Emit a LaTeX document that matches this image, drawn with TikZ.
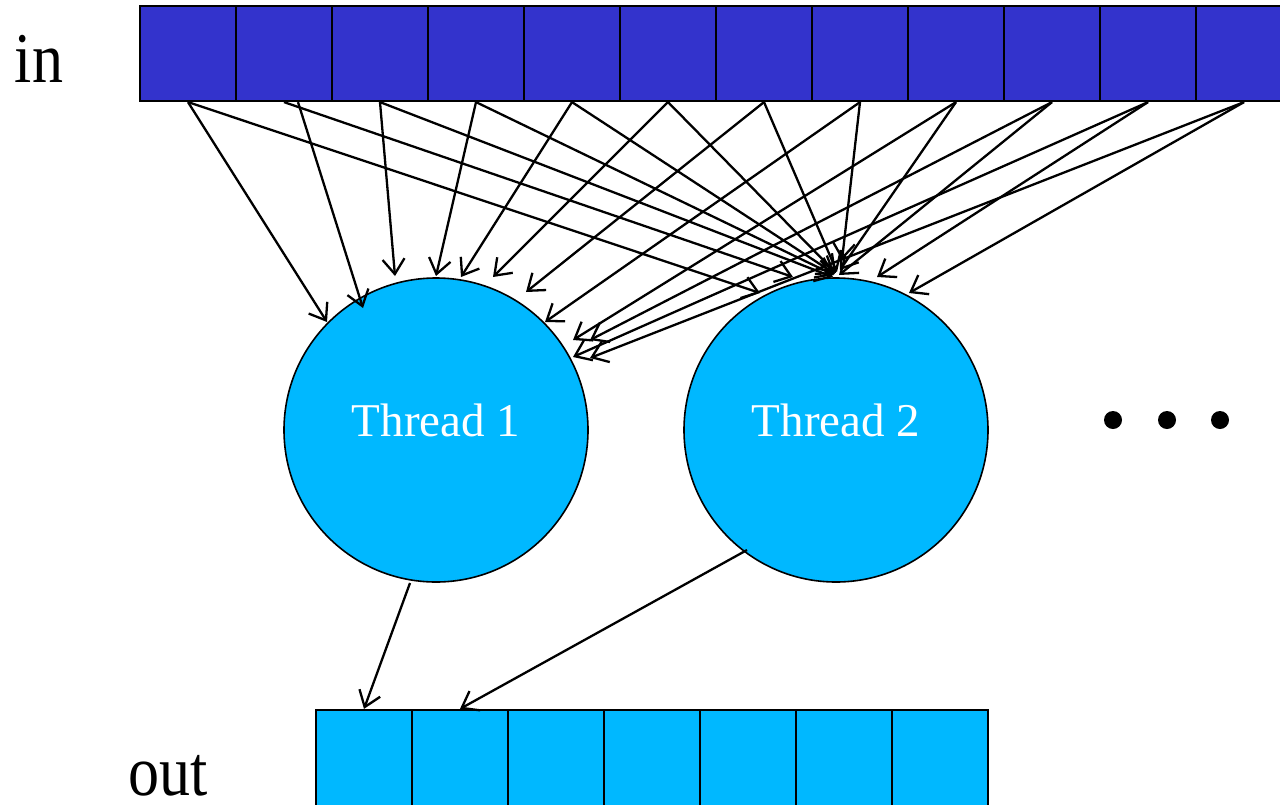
\documentclass[tikz,border=0pt]{standalone}
\usepackage{fontspec}
\usepackage{graphicx}
\setmainfont{Liberation Serif}
\usetikzlibrary{arrows.meta,positioning,calc}
\definecolor{inblue}{HTML}{3333CC}
\definecolor{outcyan}{HTML}{00B8FF}
\newcommand{\tallword}[1]{\scalebox{1}[1.15]{#1}}
\tikzset{x=1pt, y=-1pt, % one unit is one pixel of the sketch, y downwards
        incell/.style={ % cells of the input array
            draw, line width=2.2pt,
            fill=inblue,
            minimum width=96pt, minimum height=95pt,
            inner sep=0pt},
        outcell/.style={ % cells of the output array
            incell,
            fill=outcyan,
            minimum height=96pt},
        thread/.style={ % a worker thread
            circle, draw, line width=1.6pt,
            fill=outcyan,
            minimum size=304pt, inner sep=0pt},
        threadname/.style={
            text=white, font=\fontsize{47}{50}\selectfont},
        arraylabel/.style={
            inner sep=0pt,
            font=\fontsize{62}{66}\selectfont},
        flow/.style={ % reads and writes
            draw, line width=2.3pt,
            -{Straight Barb[length=15pt,width=22pt,line width=2.3pt]}}
        }

\begin{document}
\begin{tikzpicture}
    \useasboundingbox (0,0) rectangle (1280,804);

    % input and output arrays
    \foreach \i in {1,...,12}
        \node[incell] (in\i) at ({92+96*\i},53.5) {};
    \foreach \i in {1,...,7}
        \node[outcell] (out\i) at ({268+96*\i},758) {};

    \node[arraylabel] (inlabel) at (39,59) {\tallword{in}};
    \node[arraylabel] (outlabel) at (168,776) {\tallword{out}};

    % threads
    \node[thread] (t1) at (436,430) {};
    \node[thread] (t2) at (836,430) {};
    \node[threadname] (t1name) at ([yshift=10pt]t1.center) {Thread 1};
    \node[threadname] (t2name) at ([yshift=10pt]t2.center) {Thread 2};

    % more threads
    \foreach \d/\x in {a/1113,b/1167,c/1220}
        \node[circle, fill=black, minimum size=18pt, inner sep=0pt] (dot\d) at (\x,420) {};

    % every cell goes to both threads
    \foreach \i/\sx/\ax/\ay/\bx/\by in {
            1/0/-109/-108/-76/-137,
            2/14/-73/-122/-43/-153,
            3/0/-41/-154/-3/-153,
            4/0/0/-154/-2/-155,
            5/0/25/-153/-1/-156,
            6/0/57/-153/0/-157,
            7/0/90/-138/1/-158,
            8/0/109/-108/6/-170,
            9/0/137/-90/4/-160,
            10/0/154/-90/3/-155,
            11/0/137/-73/41/-153,
            12/0/154/-72/73/-137}
    {
        \draw[flow] ([xshift=\sx pt]in\i.south) -- ($(t1.center)+(\ax,\ay)$);
        \draw[flow] (in\i.south) -- ($(t2.center)+(\bx,\by)$);
    }

    % results
    \draw[flow] ($(t1.center)+(-26,153)$) -- (out1.north);
    \draw[flow] ($(t2.center)+(-89,120)$) -- (out2.north);
\end{tikzpicture}
\end{document}
